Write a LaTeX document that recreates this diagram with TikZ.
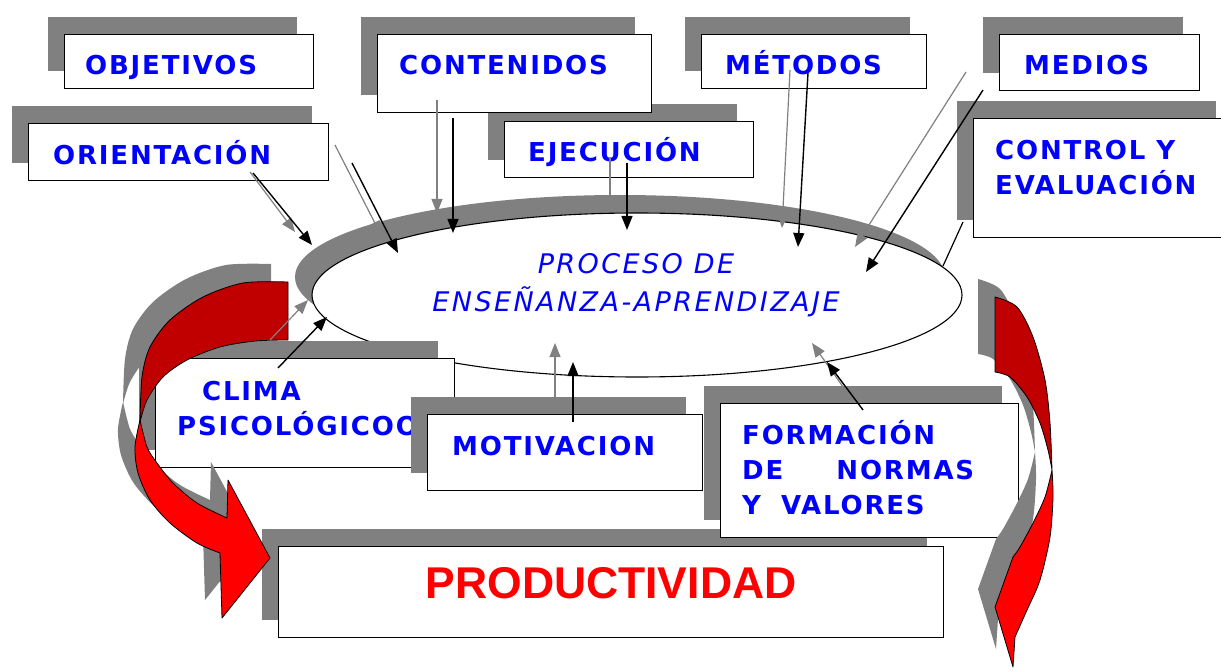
\documentclass[tikz,border=0pt]{standalone}
\usepackage{fontspec}
\usepackage{tikz}
\usetikzlibrary{arrows.meta, shapes.geometric, shadows}
\newfontfamily\lblfont{DejaVu Sans}[LetterSpace=7]
\newfontfamily\procfont{DejaVu Sans}[LetterSpace=9]
\newfontfamily\prodfont{Liberation Sans}
\definecolor{shgray}{HTML}{808080}
\definecolor{dkred}{HTML}{C00000}
\definecolor{brred}{HTML}{FF0000}
\definecolor{lblblue}{HTML}{0000FF}

\begin{document}
\begin{tikzpicture}[x=1pt, y=-1pt,
	shad/.style={drop shadow={shadow xshift=-17pt, shadow yshift=18pt, opacity=1, fill=shgray}},
	box/.style={shad, rectangle, draw=black, fill=white, line width=1.3pt, anchor=north west, inner sep=0pt},
	lbl/.style={anchor=base west, inner sep=0pt, text=lblblue, align=left, font=\lblfont\bfseries\fontsize{26}{35}\selectfont},
	blk/.style={black, line width=1.4pt, -{Triangle[length=14pt, width=11pt]}},
	gry/.style={shgray, line width=1.2pt, -{Triangle[length=14pt, width=11pt]}},
	ribbon/.style={shad, draw=black, line width=0.8pt, line join=round}]
	\path [use as bounding box, fill=white] (0,0) rectangle (1221,671);
	% central process
	\node [shad, ellipse, draw=black, fill=white, line width=1.1pt, minimum width=650pt, minimum height=164pt, inner sep=0pt] (proc) at (637,295) {};
	\node [anchor=base, inner sep=0pt, align=center, text=lblblue, font=\procfont\itshape\fontsize{27}{38}\selectfont] (proct) at (636,311) {PROCESO DE\\ENSEÑANZA-APRENDIZAJE};
	% upper boxes
	\node [box, minimum width=249pt, minimum height=54pt] (obj) at (64,34) {};
	\node [lbl] (objt) at (85,75) {OBJETIVOS};
	\node [box, minimum width=300pt, minimum height=57pt] (ori) at (28,123) {};
	\node [lbl] (orit) at (53,165) {ORIENTACIÓN};
	\node [box, minimum width=249pt, minimum height=56pt] (eje) at (504,121) {};
	\node [lbl] (ejet) at (528,162) {EJECUCIÓN};
	\node [box, minimum width=274pt, minimum height=78pt] (cont) at (377,34) {};
	\node [lbl] (contt) at (399,75) {CONTENIDOS};
	\node [box, minimum width=225pt, minimum height=54pt] (met) at (701,34) {};
	\node [lbl] (mett) at (725,75) {MÉTODOS};
	\node [box, minimum width=200pt, minimum height=56pt] (med) at (999,34) {};
	\node [lbl] (medt) at (1024,75) {MEDIOS};
	\node [box, minimum width=259pt, minimum height=119pt] (ctrl) at (973,118) {};
	\node [lbl] (ctrlt) at (995,195) {CONTROL Y\\EVALUACIÓN};
	% lower boxes
	\node [box, minimum width=299pt, minimum height=109pt] (clima) at (155,358) {};
	\node [lbl] (climat) at (177,435) {\hspace*{25pt}CLIMA\\PSICOLÓGICOO};
	\node [box, minimum width=275pt, minimum height=76pt] (mot) at (427,414) {};
	\node [lbl] (mott) at (452,455) {MOTIVACION};
	\node [box, minimum width=665pt, minimum height=91pt] (prod) at (278,546) {};
	\node [anchor=base, inner sep=0pt, text=brred, font=\prodfont\bfseries\fontsize{44.5}{50}\selectfont] (prodt) at (611,598) {PRODUCTIVIDAD};
	\node [box, minimum width=298pt, minimum height=134pt] (form) at (720,403) {};
	\node [lbl, text width=232pt] (formt) at (742,444) {FORMACIÓN\\DE\hfill NORMAS\\Y\hspace{20pt}VALORES};
	% curved arrows
	\draw [ribbon, fill=dkred] (288,282) -- plot [smooth] coordinates {(288,340) (255,341) (220,347) (187,360) (163,377) (147,400) (140,422)}
		-- plot [smooth] coordinates {(140,422) (142,377) (150,347) (170,320) (203,297) (243,283) (288,282)} -- cycle;
	\draw [ribbon, fill=brred] plot [smooth] coordinates {(140,420) (135,447) (138,473) (150,500) (170,523) (197,543) (220,553)}
		-- (222,618) -- (270,558) -- (228,480) -- plot [smooth] coordinates {(227,518) (197,503) (173,483) (157,463) (147,447) (140,420)} -- cycle;
	\draw [ribbon, fill=dkred] (995,297) -- plot [smooth] coordinates {(995,372) (1010,377) (1027,397) (1040,423) (1048,450) (1052,470)}
		-- plot [smooth] coordinates {(1052,470) (1050,423) (1045,380) (1033,337) (1017,307) (995,297)} -- cycle;
	\draw [ribbon, fill=brred] plot [smooth] coordinates {(1052,470) (1053,497) (1050,537) (1040,580) (1027,610) (1015,637)}
		-- (1013,667) -- (995,607) -- plot [smooth] coordinates {(1013,557) (1020,547) (1033,523) (1045,497) (1052,470)} -- cycle;
	% arrows into the process
	\coordinate (objs) at (352,163);   \coordinate (obje) at (398,253);
	\coordinate (objgs) at (335,145);  \coordinate (objge) at (381,235);
	\coordinate (oris) at (253,173);   \coordinate (orie) at (312,245);
	\coordinate (origs) at (250,172);  \coordinate (orige) at (295,232);
	\coordinate (conts) at (453,118);  \coordinate (conte) at (453,233);
	\coordinate (contgs) at (437,100); \coordinate (contge) at (437,213);
	\coordinate (ejes) at (627,163);   \coordinate (ejee) at (627,230);
	\coordinate (ejegs) at (610,157);  \coordinate (ejege) at (610,212);
	\coordinate (mets) at (808,73);    \coordinate (mete) at (798,247);
	\coordinate (metgs) at (790,70);   \coordinate (metge) at (782,228);
	\coordinate (meds) at (983,90);    \coordinate (mede) at (866,272);
	\coordinate (medgs) at (966,72);   \coordinate (medge) at (855,247);
	\coordinate (ctrls) at (963,222);  \coordinate (ctrle) at (943,266);
	\coordinate (climas) at (278,368); \coordinate (climae) at (327,317);
	\coordinate (climags) at (270,340); \coordinate (climage) at (308,300);
	\coordinate (mots) at (573,422);   \coordinate (mote) at (573,362);
	\coordinate (motgs) at (555,397);  \coordinate (motge) at (555,343);
	\coordinate (forms) at (863,410);  \coordinate (forme) at (827,362);
	\coordinate (formgs) at (846,391); \coordinate (formge) at (812,343);
	\draw [gry] (objgs) -- (objge);
	\draw [blk] (objs) -- (obje);
	\draw [gry] (origs) -- (orige);
	\draw [blk] (oris) -- (orie);
	\draw [gry] (contgs) -- (contge);
	\draw [blk] (conts) -- (conte);
	\draw [gry] (ejegs) -- (ejege);
	\draw [blk] (ejes) -- (ejee);
	\draw [gry] (metgs) -- (metge);
	\draw [blk] (mets) -- (mete);
	\draw [gry] (medgs) -- (medge);
	\draw [blk] (meds) -- (mede);
	\draw [black, line width=1.2pt] (ctrls) -- (ctrle);
	\draw [gry] (climags) -- (climage);
	\draw [blk] (climas) -- (climae);
	\draw [gry] (motgs) -- (motge);
	\draw [blk] (mots) -- (mote);
	\draw [gry] (formgs) -- (formge);
	\draw [blk] (forms) -- (forme);
\end{tikzpicture}
\end{document}
